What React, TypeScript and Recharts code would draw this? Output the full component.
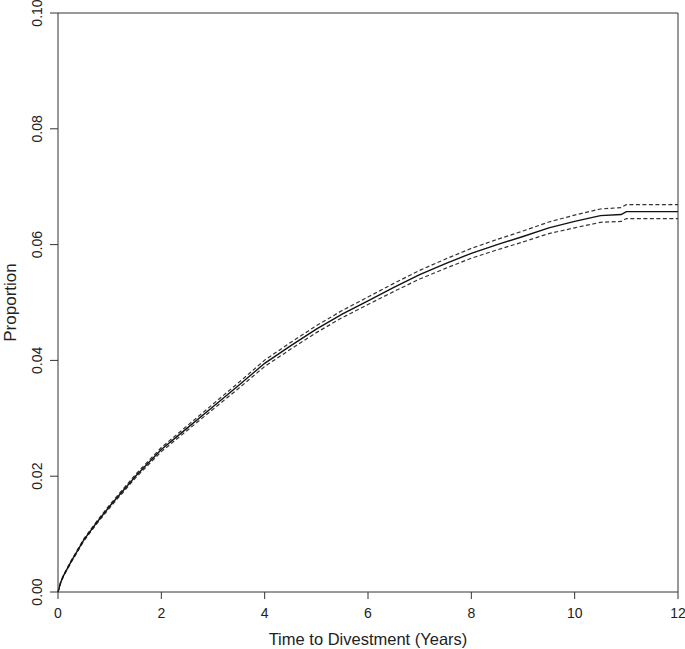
import { LineChart, Line, XAxis, YAxis, ReferenceLine } from "recharts";

// cumulative proportion divested over time, with 95% band
const years = [0, 0.05, 0.1, 0.25, 0.5, 0.75, 1, 1.5, 2, 2.5, 3, 3.5, 4, 4.5, 5, 5.5, 6, 6.5, 7, 7.5, 8, 8.5, 9, 9.5, 10, 10.5, 10.9, 11, 12];
const estimate = [0, 0.0016, 0.0027, 0.0052, 0.009, 0.012, 0.0148, 0.02, 0.0246, 0.0283, 0.032, 0.0357, 0.0395, 0.0425, 0.0454, 0.048, 0.0503, 0.0526, 0.0548, 0.0567, 0.0585, 0.06, 0.0614, 0.0629, 0.064, 0.065, 0.0652, 0.0657, 0.0657];
const halfWidth = [0, 0.0001, 0.0001, 0.00015, 0.0002, 0.00022, 0.00025, 0.0003, 0.00035, 0.0004, 0.00045, 0.0005, 0.00055, 0.00058, 0.0006, 0.00062, 0.00065, 0.0007, 0.00075, 0.0008, 0.00085, 0.0009, 0.00095, 0.001, 0.0011, 0.00115, 0.0012, 0.0012, 0.0012];

const xTicks = [0, 2, 4, 6, 8, 10, 12];
const yTicks = [0, 0.02, 0.04, 0.06, 0.08, 0.1];

const data = years.map((t, i) => ({
    t,
    est: estimate[i],
    lower: estimate[i] - halfWidth[i],
    upper: estimate[i] + halfWidth[i],
}));

const font = "'Liberation Sans', Arial, sans-serif";
const ink = "#333";

// eslint-disable-next-line @typescript-eslint/no-explicit-any
function YTick({ x, y, payload }: any) {
    const tx = x - 6;
    return (
        <text x={tx} y={y} transform={`rotate(-90, ${tx}, ${y})`} textAnchor="middle" fontSize={14} fontFamily={font} fill="#222">
            {payload.value.toFixed(2)}
        </text>
    );
}

// eslint-disable-next-line @typescript-eslint/no-explicit-any
function XTitle({ viewBox }: any) {
    const cx = viewBox.x + viewBox.width / 2;
    return (
        <text x={cx} y={645} textAnchor="middle" fontSize={16.5} fontFamily={font} fill="#222">
            Time to Divestment (Years)
        </text>
    );
}

// eslint-disable-next-line @typescript-eslint/no-explicit-any
function YTitle({ viewBox }: any) {
    const cy = viewBox.y + viewBox.height / 2;
    return (
        <text x={16} y={cy} transform={`rotate(-90, 16, ${cy})`} textAnchor="middle" fontSize={17} fontFamily={font} fill="#222">
            Proportion
        </text>
    );
}

export default function App() {
    return (
        <div style={{ position: "absolute", left: 0, top: 0, background: "#fff" }}>
            <LineChart width={685} height={649} data={data} margin={{ top: 13, right: 7, bottom: 0, left: 0 }}>
                <XAxis
                    type="number"
                    dataKey="t"
                    domain={[0, 12]}
                    ticks={xTicks}
                    height={57}
                    tickSize={7}
                    tickMargin={9}
                    stroke={ink}
                    tick={{ fontSize: 14, fontFamily: font, fill: "#222" }}
                    label={<XTitle />}
                />
                <YAxis
                    type="number"
                    domain={[0, 0.1]}
                    ticks={yTicks}
                    width={58}
                    tickSize={8}
                    stroke={ink}
                    tick={<YTick />}
                    label={<YTitle />}
                />
                <ReferenceLine x={12} stroke={ink} />
                <ReferenceLine y={0.1} stroke={ink} />
                <Line type="linear" dataKey="upper" stroke="#333" strokeWidth={1.2} strokeDasharray="4 2.5" dot={false} isAnimationActive={false} />
                <Line type="linear" dataKey="lower" stroke="#333" strokeWidth={1.2} strokeDasharray="4 2.5" dot={false} isAnimationActive={false} />
                <Line type="linear" dataKey="est" stroke="#111" strokeWidth={1.4} dot={false} isAnimationActive={false} />
            </LineChart>
        </div>
    );
}
